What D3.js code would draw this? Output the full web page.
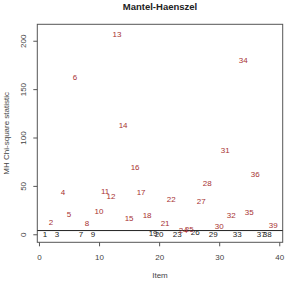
<!DOCTYPE html>
<html><head><meta charset="utf-8">
<script src="https://cdn.jsdelivr.net/npm/d3@7"></script>
<style>
body{margin:0;background:#fff;}
text{font-family:"Liberation Sans",Arial,sans-serif;}
</style></head>
<body>
<svg id="c" width="302" height="281"></svg>
<script>
const items = d3.range(1, 40);
const mhStat = [0, 12.4, 0, 43.7, 21.0, 162.5, 0, 11.4, 0, 24.1,
  44.4, 39.6, 206.6, 112.9, 16.5, 69.5, 43.7, 19.2, 0.6, 0,
  11.4, 36.5, 0, 4.4, 5.5, 1.7, 34.4, 52.7, 0, 8.6,
  87.1, 19.2, 0, 180.4, 22.7, 61.6, 0, 0, 8.9];
const threshold = 3.84;
const xTicks = [0, 10, 20, 30, 40];
const yTicks = [0, 50, 100, 150, 200];
const title = "Mantel-Haenszel";
const xLabel = "Item";
const yLabel = "MH Chi-square statistic";

const svg = d3.select("#c");
const L = 37.3, R = 282.7, T = 24.3, B = 242.3;
const x = d3.scaleLinear().domain([-0.28, 40.57]).range([L, R]);
const y = d3.scaleLinear().domain([-8.3, 217]).range([B, T]);
const axisCol = "#444";

// box
svg.append("rect").attr("x", L).attr("y", T).attr("width", R - L).attr("height", B - T)
  .attr("fill", "none").attr("stroke", "#555").attr("stroke-width", 1);

// x axis
const gx = svg.append("g").attr("transform", `translate(0,${B})`)
  .call(d3.axisBottom(x).tickValues(xTicks).tickSize(4).tickPadding(8).tickFormat(d3.format("d")));
gx.select(".domain").remove();
gx.selectAll("line").attr("stroke", "#555");
gx.selectAll("text").attr("fill", axisCol).attr("font-size", 8).attr("font-family", "Liberation Sans, Arial, sans-serif");

// y axis (rotated labels like R)
const gy = svg.append("g").attr("transform", `translate(${L},0)`)
  .call(d3.axisLeft(y).tickValues(yTicks).tickSize(4).tickFormat(d3.format("d")));
gy.select(".domain").remove();
gy.selectAll("line").attr("stroke", "#555");
gy.selectAll("text")
  .attr("fill", axisCol).attr("font-size", 8).attr("font-family", "Liberation Sans, Arial, sans-serif")
  .attr("text-anchor", "middle").attr("dy", null).attr("x", null)
  .attr("transform", "translate(-14,0) rotate(-90)")
  .attr("dominant-baseline", "central");

// threshold line
svg.append("line").attr("x1", L).attr("x2", R).attr("y1", y(threshold)).attr("y2", y(threshold))
  .attr("stroke", "#222").attr("stroke-width", 1);

// labels
svg.append("g").selectAll("text").data(items).join("text")
  .attr("x", (d, i) => x(d))
  .attr("y", (d, i) => y(mhStat[i]))
  .attr("dy", "0.35em")
  .attr("text-anchor", "middle")
  .attr("font-size", 8)
  .attr("fill", (d, i) => mhStat[i] > threshold ? "#a83232" : "#222")
  .text(d => d);

// title
svg.append("text").attr("x", (L + R) / 2).attr("y", 10).attr("text-anchor", "middle")
  .attr("font-size", 9.5).attr("font-weight", "bold").attr("fill", "#222").text(title);
svg.append("text").attr("x", (L + R) / 2).attr("y", 278).attr("text-anchor", "middle")
  .attr("font-size", 8).attr("fill", axisCol).text(xLabel);
svg.append("text").attr("transform", `translate(9,${(T + B) / 2}) rotate(-90)`)
  .attr("text-anchor", "middle").attr("font-size", 8).attr("fill", axisCol).text(yLabel);
</script>
</body></html>
